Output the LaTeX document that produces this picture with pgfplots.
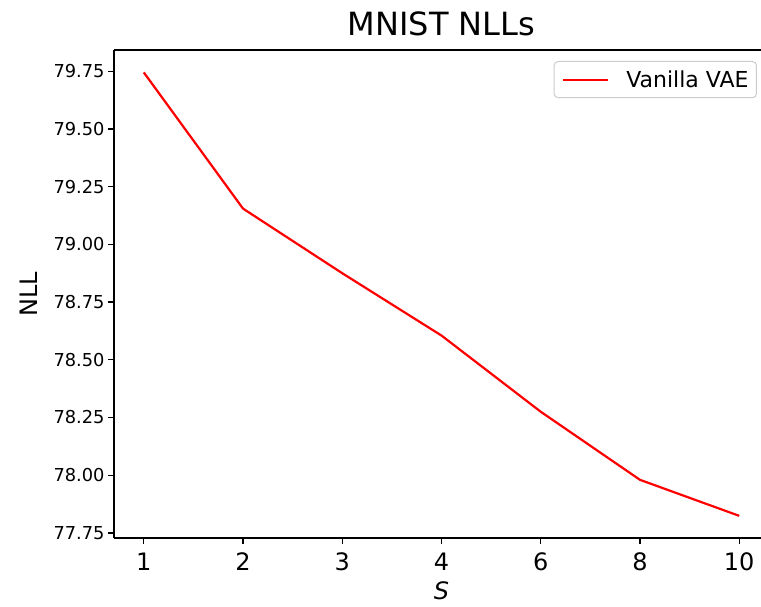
\documentclass[border=0pt]{standalone}
\usepackage{fontspec}
\setmainfont{DejaVu Sans}
\usepackage{pgfplots}
\pgfplotsset{compat=1.18}
\begin{document}
\begin{tikzpicture}
\path[use as bounding box] (-114pt,-68pt) rectangle (647pt,538pt);
\begin{axis}[
  at={(0pt,0pt)}, anchor=south west,
  scale only axis, width=655pt, height=488pt,
  xmin=-0.3, xmax=6.3, ymin=77.728, ymax=79.842,
  axis lines*=left,
  axis line style={line width=1.3pt, -},
  xtick={0,1,2,3,4,5,6}, xticklabels={1,2,3,4,6,8,10},
  ytick={77.75,78,78.25,78.5,78.75,79,79.25,79.5,79.75},
  /pgf/number format/assume math mode=true,
  y tick label style={/pgf/number format/fixed, /pgf/number format/fixed zerofill, /pgf/number format/precision=2, font=\fontsize{17.8}{20}\selectfont},
  x tick label style={font=\fontsize{24}{28}\selectfont, yshift=-5pt},
  tick align=outside, tick pos=left, major tick length=6pt,
  every tick/.style={line width=1.3pt, black},
  title={MNIST NLLs},
  title style={font=\fontsize{32}{38}\selectfont, at={(axis description cs:0.5,1.041)}, anchor=center},
  xlabel={\itshape S},
  xlabel style={font=\fontsize{24}{28}\selectfont, at={(axis description cs:0.5,-0.108)}, anchor=center},
  ylabel={NLL},
  ylabel style={font=\fontsize{24}{28}\selectfont, at={(axis description cs:-0.13,0.5)}, anchor=center},
  legend style={at={(1,1)}, anchor=north east, xshift=-12pt, yshift=-11pt,
    draw={rgb,255:red,204;green,204;blue,204}, line width=1pt, rounded corners=4pt,
    font=\fontsize{22}{26}\selectfont, inner xsep=6pt, inner ysep=7pt},
  legend cell align=left,
  legend image code/.code={\draw[#1, line width=2.2pt] (2pt,0pt) -- (47pt,0pt); \path (0pt,0pt) (62pt,0pt);},
]
\draw[line width=1.3pt] (rel axis cs:0,1) -- (rel axis cs:1,1);
\addplot[red, line width=2.2pt] coordinates {
  (0,79.745) (1,79.155) (2,78.875) (3,78.605) (4,78.275) (5,77.98) (6,77.824)
};
\addlegendentry{Vanilla VAE}
\end{axis}
\end{tikzpicture}
\end{document}
